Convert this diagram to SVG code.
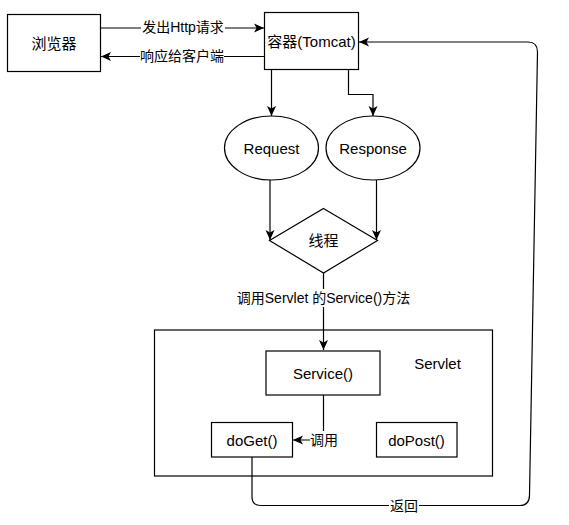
<svg xmlns="http://www.w3.org/2000/svg" width="569" height="525" viewBox="0 0 569 525">
<style>
.n{fill:#fff;stroke:#000;stroke-width:1.2}
.e{fill:none;stroke:#000;stroke-width:1.2}
.t{font-family:"Liberation Sans","Noto Sans CJK SC",sans-serif;font-size:15px;fill:#000;text-anchor:middle;dominant-baseline:central}
.l{font-family:"Liberation Sans","Noto Sans CJK SC",sans-serif;font-size:14px;fill:#000;text-anchor:middle;dominant-baseline:central}
.bg{fill:#fff}
</style>
<defs>
<marker id="a" viewBox="0 0 10 10" refX="10" refY="5" markerWidth="10" markerHeight="10" markerUnits="userSpaceOnUse" orient="auto">
<path d="M0,0.5 L10,5 L0,9.5 L2.5,5 z" fill="#000"/>
</marker>
</defs>
<rect width="569" height="525" fill="#fff"/>
<g id="servlet">
<rect class="n" x="154.5" y="330" width="338" height="146"/>
<text class="t" x="437.5" y="363.5">Servlet</text>
</g>
<g id="connectors">
<path class="e" d="M100.5,28 L264,28" marker-end="url(#a)"/>
<path class="e" d="M264.5,56.5 L101,56.5" marker-end="url(#a)"/>
<path class="e" d="M271.5,69.5 L271.5,116" marker-end="url(#a)"/>
<path class="e" d="M348.5,69.5 L348.5,94.5 L373,94.5 L373,116" marker-end="url(#a)"/>
<path class="e" d="M270,180 L270,240" marker-end="url(#a)"/>
<path class="e" d="M376.5,180 L376.5,240" marker-end="url(#a)"/>
<path class="e" d="M323.5,273 L323.5,350" marker-end="url(#a)"/>
<path class="e" d="M323.5,395 L323.5,440 L293,440" marker-end="url(#a)"/>
<path class="e" d="M252,457 L252,497 Q252,505.5 261,505.5 L520,505.5 Q529.5,505.5 529.5,495 L537.5,52 Q537.5,42 528,42 L359,42" marker-end="url(#a)"/>
<rect class="bg" x="141" y="19" width="84" height="18"/>
<text class="l" x="183" y="27">发出Http请求</text>
<rect class="bg" x="140" y="47" width="84" height="18"/>
<text class="l" x="182" y="56">响应给客户端</text>
<rect class="bg" x="237" y="289" width="173" height="18"/>
<text class="l" x="323.5" y="298">调用Servlet 的Service()方法</text>
<rect class="bg" x="310" y="431" width="28" height="18"/>
<text class="l" x="324" y="439.5">调用</text>
<rect class="bg" x="389" y="497" width="30" height="18"/>
<text class="l" x="404" y="505.5">返回</text>
</g>
<g id="browser">
<rect class="n" x="7.5" y="14.5" width="93" height="57"/>
<text class="t" x="54" y="43">浏览器</text>
</g>
<g id="tomcat">
<rect class="n" x="264.5" y="12.5" width="94" height="57"/>
<text class="t" x="311.5" y="41">容器(Tomcat)</text>
</g>
<g id="request">
<ellipse class="n" cx="271.5" cy="148" rx="47" ry="32"/>
<text class="t" x="271.5" y="148">Request</text>
</g>
<g id="response">
<ellipse class="n" cx="373" cy="148" rx="47" ry="32"/>
<text class="t" x="373" y="148">Response</text>
</g>
<g id="thread">
<path class="n" d="M323.5,208.5 L377.5,240.5 L323.5,273 L269.5,240.5 z"/>
<text class="t" x="323.5" y="240.5">线程</text>
</g>
<g id="service">
<rect class="n" x="266" y="351" width="114" height="44"/>
<text class="t" x="323" y="373">Service()</text>
</g>
<g id="doget">
<rect class="n" x="211.5" y="422.5" width="81" height="34.5"/>
<text class="t" x="252" y="440">doGet()</text>
</g>
<g id="dopost">
<rect class="n" x="376.5" y="422.5" width="80.5" height="34.5"/>
<text class="t" x="416.5" y="440">doPost()</text>
</g>
</svg>
